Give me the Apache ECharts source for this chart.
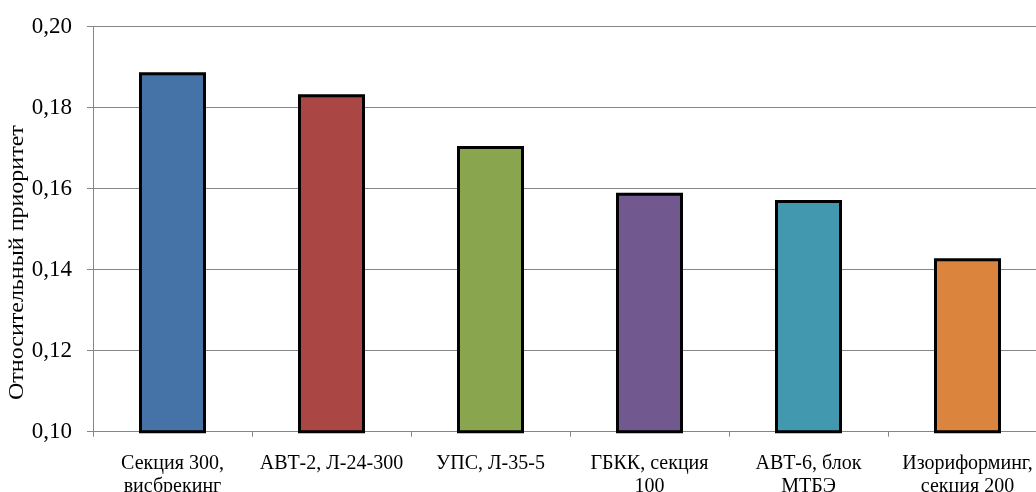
<!DOCTYPE html>
<html><head><meta charset="utf-8">
<script src="https://cdn.jsdelivr.net/npm/echarts@6/dist/echarts.min.js"></script>
<style>html,body{margin:0;padding:0;background:#fff;overflow:hidden;width:1036px;height:492px}#c{width:1052px;height:492px}</style>
</head><body><div id="c"></div>
<script>
const categories = ["Секция 300,\nвисбрекинг", "АВТ-2, Л-24-300", "УПС, Л-35-5", "ГБКК, секция\n100", "АВТ-6, блок\nМТБЭ", "Изориформинг,\nсекция 200"];
const values = [0.1887, 0.1833, 0.1705, 0.1590, 0.1572, 0.1428];
const barColors = ["#4572A7", "#AA4643", "#89A54E", "#71588F", "#4198AF", "#DB843D"];
const yTicks = { min: 0.10, max: 0.20, interval: 0.02 };
const yTitle = "Относительный приоритет";

const chart = echarts.init(document.getElementById('c'), null, {renderer: 'canvas'});
const font = "'Liberation Serif', 'Times New Roman', serif";
chart.setOption({
  animation: false,
  textStyle: { fontFamily: font },
  grid: { left: 93, top: 26.5, width: 954, height: 405.2, containLabel: false, outerBoundsMode: 'none' },
  xAxis: {
    type: 'category', data: categories,
    axisLine: { lineStyle: { color: '#868686', width: 1 } },
    axisTick: { show: true, length: 5, lineStyle: { color: '#868686' } },
    axisLabel: { color: '#000', fontSize: 20, fontFamily: font, margin: 21, lineHeight: 23, interval: 0 }
  },
  yAxis: {
    type: 'value', min: yTicks.min, max: yTicks.max, interval: yTicks.interval,
    axisLine: { show: true, lineStyle: { color: '#868686', width: 1 } },
    axisTick: { show: true, length: 6, lineStyle: { color: '#868686' } },
    splitLine: { lineStyle: { color: '#868686', width: 1 } },
    axisLabel: { color: '#000', fontSize: 23, fontFamily: font, margin: 21,
      formatter: v => v.toFixed(2).replace('.', ',') }
  },
  graphic: [{
    type: 'text', x: 8, y: 400, rotation: Math.PI / 2, scaleX: 1.2, scaleY: 1,
    originX: 0, originY: 0,
    style: { text: yTitle, fontSize: 20, fontFamily: font, fill: '#000', align: 'left', verticalAlign: 'top' }
  }],
  series: [{
    type: 'bar', barWidth: 67,
    data: values.map((v, i) => ({ value: v, itemStyle: { color: barColors[i] } })),
    itemStyle: { borderColor: '#000', borderWidth: 3 }
  }]
});
</script></body></html>
